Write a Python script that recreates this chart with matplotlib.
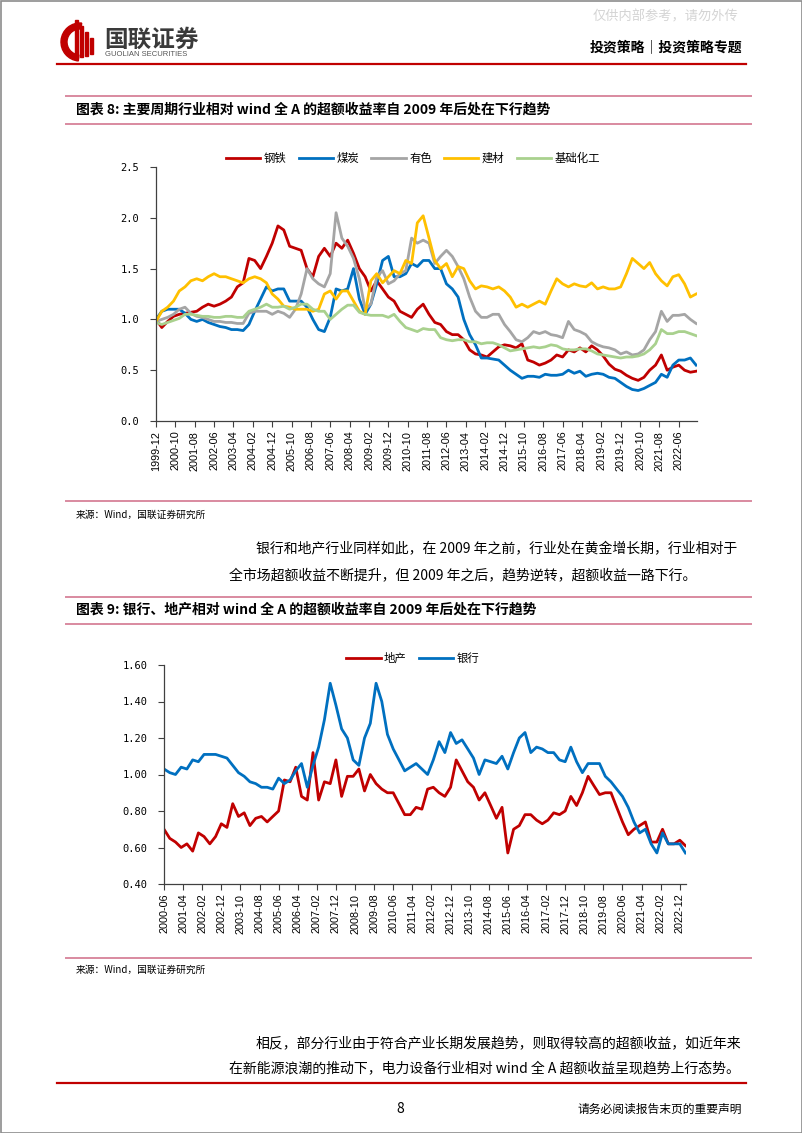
import matplotlib

matplotlib.use("Agg")
import matplotlib.dates as mdates
import matplotlib.pyplot as plt
import pandas as pd
from matplotlib.patches import Rectangle, Wedge

plt.rcParams["font.family"] = ["Noto Sans CJK SC", "DejaVu Sans"]

W, H = 802, 1133

# ---- figure 8: cyclical sectors vs wind all-A (quarterly readings) ----
cyc_dates = pd.date_range("1999-12-01", "2023-03-01", freq="3MS")
steel = [1.00, 0.92, 0.98, 1.03, 1.05, 1.06, 1.07, 1.08, 1.12, 1.15,
         1.13, 1.15, 1.18, 1.22, 1.32, 1.36, 1.60, 1.58, 1.50, 1.62,
         1.75, 1.92, 1.88, 1.72, 1.70, 1.68, 1.50, 1.42, 1.62, 1.70,
         1.62, 1.75, 1.70, 1.78, 1.65, 1.50, 1.42, 1.28, 1.38, 1.30,
         1.22, 1.18, 1.08, 1.05, 1.02, 1.10, 1.15, 1.05, 0.97, 0.95,
         0.88, 0.85, 0.85, 0.80, 0.70, 0.66, 0.65, 0.63, 0.68, 0.73,
         0.75, 0.74, 0.72, 0.76, 0.60, 0.58, 0.55, 0.57, 0.60, 0.65,
         0.63, 0.70, 0.68, 0.72, 0.68, 0.74, 0.70, 0.64, 0.56, 0.51,
         0.49, 0.45, 0.42, 0.40, 0.43, 0.50, 0.55, 0.65, 0.50, 0.53,
         0.55, 0.50, 0.48, 0.49]
coal = [1.00, 1.08, 1.10, 1.10, 1.10, 1.06, 1.00, 0.98, 1.00, 0.97,
        0.95, 0.93, 0.92, 0.90, 0.90, 0.89, 0.95, 1.08, 1.20, 1.32,
        1.28, 1.30, 1.30, 1.18, 1.18, 1.18, 1.12, 1.00, 0.90, 0.88,
        1.02, 1.30, 1.28, 1.30, 1.50, 1.20, 1.05, 1.15, 1.35, 1.58,
        1.62, 1.42, 1.42, 1.45, 1.55, 1.52, 1.58, 1.58, 1.50, 1.50,
        1.35, 1.30, 1.22, 1.00, 0.85, 0.75, 0.62, 0.62, 0.61, 0.60,
        0.55, 0.50, 0.46, 0.42, 0.44, 0.44, 0.43, 0.46, 0.45, 0.45,
        0.46, 0.50, 0.47, 0.49, 0.44, 0.46, 0.47, 0.46, 0.43, 0.42,
        0.38, 0.34, 0.31, 0.30, 0.32, 0.35, 0.38, 0.46, 0.43, 0.55,
        0.60, 0.60, 0.62, 0.55]
nonferrous = [0.98, 1.00, 1.02, 1.05, 1.10, 1.12, 1.06, 1.03, 1.02, 1.00,
              0.98, 0.98, 0.97, 0.97, 0.96, 0.96, 1.06, 1.08, 1.08, 1.08,
              1.05, 1.08, 1.06, 1.02, 1.10, 1.25, 1.50, 1.40, 1.35, 1.32,
              1.45, 2.05, 1.80, 1.72, 1.60, 1.40, 1.10, 1.15, 1.42, 1.48,
              1.35, 1.38, 1.45, 1.48, 1.80, 1.75, 1.78, 1.75, 1.55, 1.62,
              1.68, 1.62, 1.52, 1.40, 1.22, 1.08, 1.02, 1.02, 1.05, 1.05,
              0.95, 0.88, 0.80, 0.78, 0.82, 0.88, 0.86, 0.88, 0.85, 0.84,
              0.82, 0.98, 0.90, 0.88, 0.85, 0.78, 0.75, 0.73, 0.72, 0.70,
              0.66, 0.68, 0.65, 0.66, 0.70, 0.80, 0.88, 1.08, 0.98, 1.04,
              1.04, 1.05, 1.00, 0.96]
building = [0.98, 1.08, 1.12, 1.18, 1.28, 1.32, 1.38, 1.40, 1.38, 1.42,
            1.45, 1.42, 1.42, 1.40, 1.38, 1.36, 1.40, 1.42, 1.40, 1.36,
            1.25, 1.20, 1.13, 1.12, 1.10, 1.10, 1.10, 1.08, 1.10, 1.25,
            1.28, 1.20, 1.28, 1.28, 1.18, 1.08, 1.05, 1.38, 1.45, 1.36,
            1.42, 1.48, 1.45, 1.58, 1.55, 1.95, 2.02, 1.80, 1.58, 1.50,
            1.55, 1.42, 1.52, 1.50, 1.38, 1.30, 1.33, 1.32, 1.30, 1.32,
            1.28, 1.22, 1.12, 1.15, 1.12, 1.15, 1.18, 1.15, 1.28, 1.40,
            1.35, 1.32, 1.35, 1.33, 1.32, 1.36, 1.30, 1.32, 1.30, 1.30,
            1.32, 1.45, 1.60, 1.55, 1.50, 1.56, 1.45, 1.38, 1.33, 1.42,
            1.44, 1.35, 1.22, 1.25]
chemicals = [0.97, 0.95, 0.97, 0.99, 1.01, 1.05, 1.05, 1.04, 1.03, 1.03,
             1.02, 1.02, 1.03, 1.03, 1.02, 1.02, 1.08, 1.10, 1.12, 1.15,
             1.12, 1.12, 1.13, 1.10, 1.12, 1.15, 1.15, 1.10, 1.08, 1.08,
             1.00, 1.05, 1.10, 1.14, 1.14, 1.07, 1.05, 1.04, 1.04, 1.04,
             1.02, 1.05, 0.98, 0.92, 0.90, 0.88, 0.91, 0.90, 0.90, 0.82,
             0.80, 0.79, 0.80, 0.80, 0.78, 0.78, 0.76, 0.77, 0.77, 0.75,
             0.72, 0.69, 0.70, 0.71, 0.72, 0.73, 0.72, 0.73, 0.75, 0.74,
             0.71, 0.70, 0.70, 0.71, 0.71, 0.69, 0.66, 0.65, 0.64, 0.63,
             0.62, 0.63, 0.63, 0.64, 0.66, 0.70, 0.76, 0.90, 0.86, 0.86,
             0.88, 0.88, 0.86, 0.84]
cyc_names = ["钢铁", "煤炭", "有色", "建材", "基础化工"]
cyc_colors = ["#C00000", "#0070C0", "#A5A5A5", "#FFC000", "#A9D18E"]
cyc_ticks = pd.date_range("1999-12-01", "2022-06-01", freq="10MS")

# ---- figure 9: property and banks vs wind all-A ----
fin_dates = pd.date_range("2000-06-01", "2023-03-01", freq="3MS")
prop = [0.70, 0.65, 0.63, 0.60, 0.62, 0.58, 0.68, 0.66, 0.62, 0.66,
        0.73, 0.71, 0.84, 0.77, 0.79, 0.72, 0.76, 0.77, 0.74, 0.77,
        0.80, 0.97, 0.96, 1.04, 0.88, 0.86, 1.12, 0.86, 0.96, 0.95,
        1.08, 0.88, 0.99, 0.99, 1.03, 0.91, 1.00, 0.95, 0.92, 0.90,
        0.90, 0.84, 0.78, 0.78, 0.82, 0.81, 0.92, 0.93, 0.90, 0.88,
        0.93, 1.08, 1.02, 0.96, 0.93, 0.86, 0.90, 0.83, 0.76, 0.82,
        0.57, 0.70, 0.72, 0.78, 0.78, 0.75, 0.73, 0.75, 0.79, 0.78,
        0.80, 0.88, 0.83, 0.90, 0.99, 0.94, 0.89, 0.90, 0.90, 0.82,
        0.74, 0.67, 0.70, 0.72, 0.74, 0.63, 0.63, 0.70, 0.62, 0.62,
        0.64, 0.61]
bank = [1.03, 1.01, 1.00, 1.04, 1.03, 1.08, 1.07, 1.11, 1.11, 1.11,
        1.10, 1.09, 1.05, 1.01, 0.99, 0.96, 0.95, 0.93, 0.93, 0.92,
        0.98, 0.95, 0.97, 1.02, 1.06, 0.93, 1.05, 1.15, 1.30, 1.50,
        1.38, 1.25, 1.20, 1.08, 1.05, 1.20, 1.28, 1.50, 1.40, 1.22,
        1.14, 1.08, 1.02, 1.04, 1.06, 1.03, 1.00, 1.08, 1.18, 1.12,
        1.23, 1.17, 1.19, 1.14, 1.09, 1.00, 1.08, 1.07, 1.06, 1.10,
        1.03, 1.12, 1.20, 1.23, 1.12, 1.15, 1.14, 1.12, 1.12, 1.08,
        1.07, 1.15, 1.07, 1.01, 1.06, 1.06, 1.06, 0.99, 0.96, 0.92,
        0.88, 0.82, 0.74, 0.68, 0.70, 0.62, 0.57, 0.68, 0.62, 0.62,
        0.62, 0.57]
fin_names = ["地产", "银行"]
fin_colors = ["#C00000", "#0070C0"]
fin_ticks = pd.date_range("2000-06-01", "2022-12-01", freq="10MS")

PINK = "#D98AA0"
RED = "#C00000"

fig = plt.figure(figsize=(W / 100, H / 100), dpi=100)

# page layer in pixel coordinates
bg = fig.add_axes([0, 0, 1, 1])
bg.set_xlim(0, W)
bg.set_ylim(H, 0)
bg.axis("off")
bg.add_patch(Rectangle((0.5, 0.5), W - 1, H - 1, fill=False, ec="#8C8C8C", lw=1.2))

# logo
bg.add_patch(Wedge((80, 42), 19, 95, 275, width=6, color=RED))
for bx, by, bh in [(75, 20, 38), (80, 26, 31), (85, 32, 24), (90, 38, 16)]:
    bg.add_patch(Rectangle((bx, by), 3, bh, color=RED))
bg.text(104, 40, "国联证券", fontsize=17, fontweight="bold", color="#3A3A3A", va="center")
bg.text(105, 55, "GUOLIAN SECURITIES", fontsize=5.5, color="#555555",
        family="Liberation Sans", va="center")
bg.text(593, 17, "仅供内部参考，请勿外传", fontsize=9.5, color="#D4D4D4", va="center")
bg.text(742, 48, "投资策略｜投资策略专题", fontsize=10, fontweight="bold", ha="right", va="center")
bg.plot([57, 746], [64, 64], color=RED, lw=1.6)

for y in [96, 124, 501, 597, 624, 958]:
    bg.plot([66, 751], [y, y], color=PINK, lw=1.4)

bg.text(76, 110, "图表 8: 主要周期行业相对 wind 全 A 的超额收益率自 2009 年后处在下行趋势",
        fontsize=10, fontweight="bold", va="center")
bg.text(76, 610, "图表 9: 银行、地产相对 wind 全 A 的超额收益率自 2009 年后处在下行趋势",
        fontsize=10, fontweight="bold", va="center")
bg.text(76, 515, "来源：Wind，国联证券研究所", fontsize=7, va="center")
bg.text(76, 970, "来源：Wind，国联证券研究所", fontsize=7, va="center")

bg.text(256, 549, "银行和地产行业同样如此，在 2009 年之前，行业处在黄金增长期，行业相对于",
        fontsize=10, va="center")
bg.text(229, 575, "全市场超额收益不断提升，但 2009 年之后，趋势逆转，超额收益一路下行。",
        fontsize=10, va="center")
bg.text(256, 1043, "相反，部分行业由于符合产业长期发展趋势，则取得较高的超额收益，如近年来",
        fontsize=10, va="center")
bg.text(229, 1068, "在新能源浪潮的推动下，电力设备行业相对 wind 全 A 超额收益呈现趋势上行态势。",
        fontsize=10, va="center")

bg.plot([57, 746], [1083, 1083], color=RED, lw=1.6)
bg.text(400, 1109, "8", fontsize=10, ha="center", va="center")
bg.text(742, 1109, "请务必阅读报告末页的重要声明", fontsize=8.5, ha="right", va="center")


def px_axes(left, top, right, bottom):
    ax = fig.add_axes([left / W, 1 - bottom / H, (right - left) / W, (bottom - top) / H])
    ax.set_facecolor("none")
    for side in ["top", "right"]:
        ax.spines[side].set_visible(False)
    for side in ["left", "bottom"]:
        ax.spines[side].set_color("#404040")
        ax.spines[side].set_linewidth(0.9)
    ax.tick_params(direction="out", length=4, width=0.8, color="#404040")
    ax.tick_params(axis="y", labelsize=7.5, pad=8)
    ax.tick_params(axis="x", labelsize=7.8, pad=3, labelrotation=90)
    return ax


def finish_axes(ax, ticks, x0, x1, yticks, fmt, legend_y):
    ax.set_xlim(x0, x1)
    ax.set_xticks(ticks)
    ax.xaxis.set_major_formatter(mdates.DateFormatter("%Y-%m"))
    for lab in ax.get_xticklabels():
        lab.set_family("Liberation Sans")
    ax.set_yticks(yticks)
    ax.set_yticklabels([fmt.format(v) for v in yticks], family="DejaVu Sans Mono")
    ax.set_ylim(yticks[0], yticks[-1])
    ax.legend(loc="center", bbox_to_anchor=(413 / W, 1 - legend_y / H),
              bbox_transform=fig.transFigure, ncol=5, frameon=False, fontsize=8.2,
              handlelength=3.0, handletextpad=0.3, columnspacing=1.1)


ax1 = px_axes(156, 167, 697, 421)
for vals, name, col in zip([steel, coal, nonferrous, building, chemicals], cyc_names, cyc_colors):
    ax1.plot(cyc_dates, vals, color=col, lw=2.0, label=name)
finish_axes(ax1, cyc_ticks, pd.Timestamp("1999-12-01"), pd.Timestamp("2023-03-15"),
            [0.0, 0.5, 1.0, 1.5, 2.0, 2.5], "{:.1f}", 158)

ax2 = px_axes(164, 665, 686, 884)
for vals, name, col in zip([prop, bank], fin_names, fin_colors):
    ax2.plot(fin_dates, vals, color=col, lw=2.0, label=name)
finish_axes(ax2, fin_ticks, pd.Timestamp("2000-06-01"), pd.Timestamp("2023-03-10"),
            [0.40, 0.60, 0.80, 1.00, 1.20, 1.40, 1.60], "{:.2f}", 658)

fig.savefig("out.png", dpi=100)
